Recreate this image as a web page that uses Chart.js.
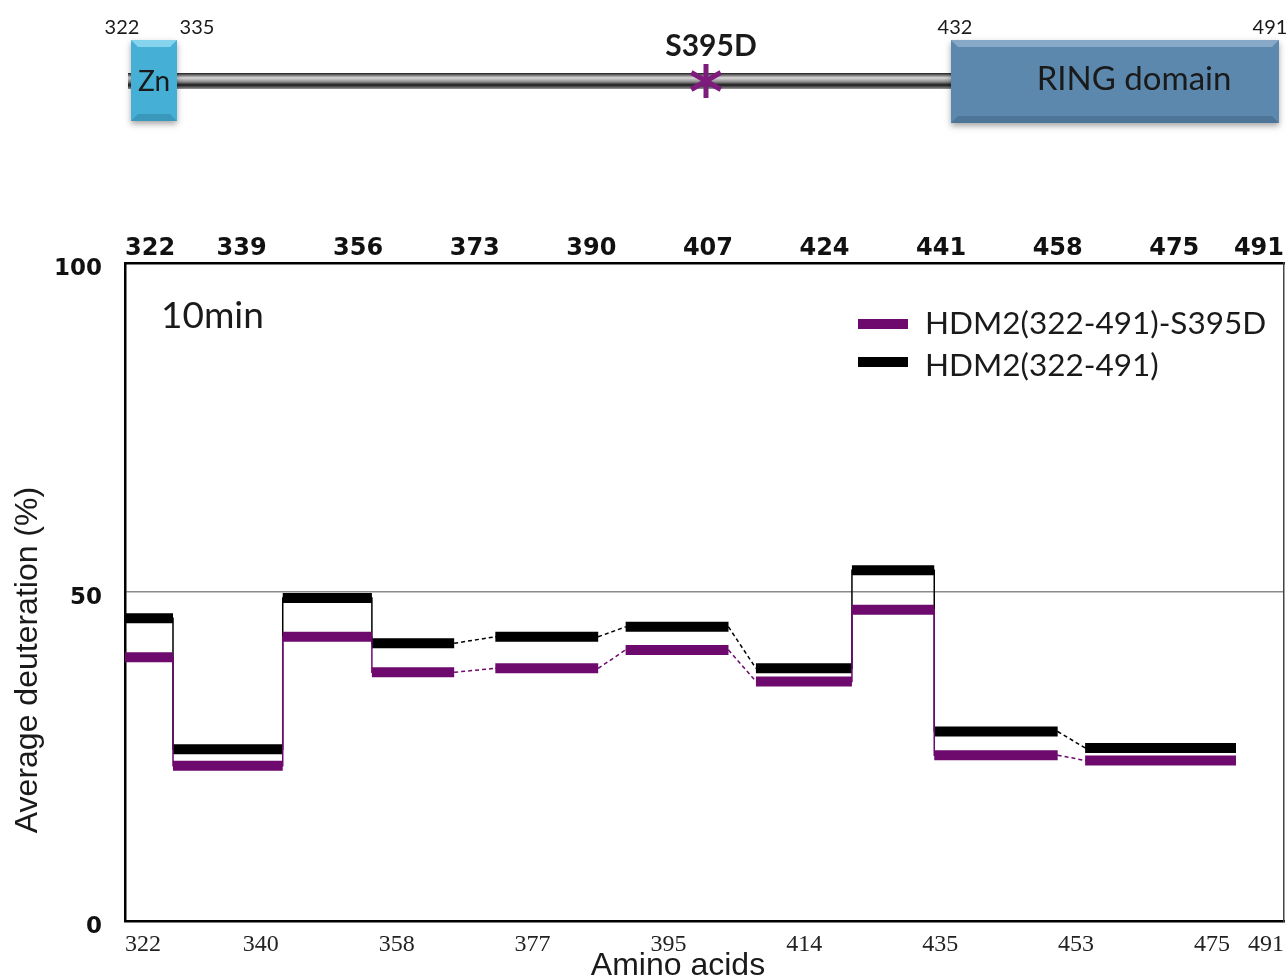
<!DOCTYPE html>
<html>
<head>
<meta charset="utf-8">
<script src="https://cdn.jsdelivr.net/npm/chart.js@4.4.1/dist/chart.umd.min.js"></script>
<style>
  html, body { margin: 0; padding: 0; background: #fff; }
  #wrap { width: 1287px; height: 980px; position: relative; }
</style>
</head>
<body>
<div id="wrap"><canvas id="hdxChart"></canvas></div>
<script>
// peptide segments (residue ranges) and average deuteration (%) after 10 min
const SEG_START = [322, 329, 345, 358, 376, 395, 414, 428, 440, 462];
const SEG_END = [329, 345, 358, 370, 391, 410, 428, 440, 458, 484];
const S395D_VALUES = [40.1, 23.6, 43.2, 37.8, 38.4, 41.2, 36.4, 47.3, 25.2, 24.4];
const WT_VALUES = [46.0, 26.1, 49.1, 42.2, 43.2, 44.7, 38.4, 53.3, 28.8, 26.3];

const SERIES_LABELS = ['HDM2(322-491)-S395D', 'HDM2(322-491)'];
const SERIES_COLORS = ['#6e0a6e', '#000000'];

// axis ticks
const TOP_TICKS = [322, 339, 356, 373, 390, 407, 424, 441, 458, 475, 491];
const BOTTOM_TICK_POS = [0, 1, 2, 3, 4, 5, 6, 7, 8, 8.53];
const BOTTOM_TICK_LABELS = ['322', '340', '358', '377', '395', '414', '435', '453', '475', '491'];
const Y_TICKS = [0, 50, 100];

// thick horizontal bar per peptide, broken by a null point
function barPoints(values) {
    const pts = [];
    values.forEach((v, i) => {
        pts.push({x: SEG_START[i], y: v}, {x: SEG_END[i], y: v}, {x: SEG_END[i], y: null});
    });
    return pts;
}

// thin line joining the peptides
function linkPoints(values) {
    const pts = [];
    values.forEach((v, i) => {
        pts.push({x: SEG_START[i], y: v}, {x: SEG_END[i], y: v});
    });
    return pts;
}

function bevelBox(ctx, x, y, w, h, fill, light, dark) {
    ctx.save();
    ctx.shadowColor = 'rgba(0,0,0,0.35)';
    ctx.shadowBlur = 6;
    ctx.shadowOffsetY = 3;
    ctx.fillStyle = fill;
    ctx.fillRect(x, y, w, h);
    ctx.restore();
    const b = 7;
    ctx.fillStyle = light;
    ctx.beginPath();
    ctx.moveTo(x, y); ctx.lineTo(x + w, y); ctx.lineTo(x + w - b, y + b); ctx.lineTo(x + b, y + b);
    ctx.closePath(); ctx.fill();
    ctx.fillStyle = dark;
    ctx.beginPath();
    ctx.moveTo(x, y + h); ctx.lineTo(x + w, y + h); ctx.lineTo(x + w - b, y + h - b); ctx.lineTo(x + b, y + h - b);
    ctx.closePath(); ctx.fill();
}

function drawDomainMap(ctx) {
    // backbone
    const g = ctx.createLinearGradient(0, 73, 0, 89);
    g.addColorStop(0, '#1e1e1e');
    g.addColorStop(0.3, '#d9d9d9');
    g.addColorStop(0.55, '#8c8c8c');
    g.addColorStop(0.75, '#1a1a1a');
    g.addColorStop(1, '#9a9a9a');
    ctx.fillStyle = g;
    ctx.fillRect(128, 73, 826, 16);

    bevelBox(ctx, 131, 40, 46, 81, '#45afd5', '#86d3ee', '#3a98bb');
    bevelBox(ctx, 951, 40, 328, 83, '#5c88ad', '#87a9c7', '#4d7597');

    ctx.fillStyle = '#1a1a1a';
    ctx.textAlign = 'center';
    ctx.textBaseline = 'middle';
    ctx.font = '28px Lato, sans-serif';
    ctx.fillText('Zn', 154, 82);
    ctx.font = '33px Lato, sans-serif';
    ctx.fillText('RING domain', 1134, 79);

    ctx.font = '20px Lato, sans-serif';
    ctx.fillText('322', 122, 28);
    ctx.fillText('335', 197, 28);
    ctx.fillText('432', 955, 28);
    ctx.fillText('491', 1270, 28);

    ctx.font = 'bold 30px Lato, sans-serif';
    ctx.fillText('S395D', 711, 46);

    // mutation star
    ctx.strokeStyle = '#7d1c7d';
    ctx.lineWidth = 5;
    const cx = 706, cy = 81, r = 17;
    [90, 30, 150].forEach(a => {
        const t = a * Math.PI / 180;
        ctx.beginPath();
        ctx.moveTo(cx - r * Math.cos(t), cy - r * Math.sin(t));
        ctx.lineTo(cx + r * Math.cos(t), cy + r * Math.sin(t));
        ctx.stroke();
    });
}

const decorPlugin = {
    id: 'decor',
    afterDraw(chart) {
        const ctx = chart.ctx;
        ctx.save();
        ctx.fillStyle = '#1a1a1a';
        ctx.textAlign = 'center';
        ctx.textBaseline = 'middle';
        ctx.font = '32px "Liberation Sans", Arial, sans-serif';
        ctx.fillText('Amino acids', 678, 966);
        ctx.save();
        ctx.translate(28, 660);
        ctx.rotate(-Math.PI / 2);
        ctx.fillText('Average deuteration (%)', 0, 0);
        ctx.restore();

        ctx.textAlign = 'left';
        ctx.font = '37px Lato, sans-serif';
        ctx.fillText('10min', 161, 316);

        // legend
        const rows = [324, 362];
        SERIES_LABELS.forEach((label, i) => {
            ctx.fillStyle = SERIES_COLORS[i];
            ctx.fillRect(858, rows[i] - 5, 50, 10);
            ctx.fillStyle = '#1a1a1a';
            ctx.font = '31.5px Lato, sans-serif';
            ctx.fillText(label, 925, rows[i] + (i ? 4 : 0));
        });

        drawDomainMap(ctx);
        ctx.restore();
    }
};

const datasets = [];
[S395D_VALUES, WT_VALUES].forEach((vals, k) => {
    datasets.push({
        label: SERIES_LABELS[k],
        data: barPoints(vals),
        borderColor: SERIES_COLORS[k],
        borderWidth: 10,
        borderCapStyle: 'butt',
        pointRadius: 0,
        spanGaps: false,
        xAxisID: 'x',
        yAxisID: 'y'
    });
    datasets.push({
        label: SERIES_LABELS[k] + ' link',
        data: linkPoints(vals),
        borderColor: SERIES_COLORS[k],
        borderWidth: 1.5,
        pointRadius: 0,
        xAxisID: 'x',
        yAxisID: 'y',
        segment: {
            borderDash: c => (c.p0.parsed.x !== c.p1.parsed.x && c.p0.parsed.y !== c.p1.parsed.y) ? [4, 3] : undefined
        }
    });
});

// keep the plot box fixed regardless of label widths
function fixHorizontal(height) {
    return s => {
        s.height = height;
        s.paddingLeft = 0;
        s.paddingRight = 0;
    };
}

new Chart(document.getElementById('hdxChart'), {
    type: 'line',
    data: {datasets: datasets},
    options: {
        responsive: true,
        maintainAspectRatio: false,
        animation: false,
        layout: {padding: {left: 0, right: 3, top: 0, bottom: 0}},
        plugins: {legend: {display: false}, tooltip: {enabled: false}},
        scales: {
            x: {
                type: 'linear',
                position: 'top',
                min: 322,
                max: 491,
                afterBuildTicks: s => { s.ticks = TOP_TICKS.map(v => ({value: v})); },
                afterFit: fixHorizontal(263),
                ticks: {
                    align: 'inner',
                    maxRotation: 0,
                    autoSkip: false,
                    padding: 0,
                    color: '#111',
                    font: {family: 'DejaVu Sans', weight: 'bold', size: 24}
                },
                grid: {drawOnChartArea: false, drawTicks: false},
                border: {color: '#000', width: 2.5}
            },
            xb: {
                type: 'linear',
                position: 'bottom',
                min: 0,
                max: 8.53,
                afterBuildTicks: s => { s.ticks = BOTTOM_TICK_POS.map(v => ({value: v})); },
                afterFit: fixHorizontal(59),
                ticks: {
                    align: 'inner',
                    maxRotation: 0,
                    autoSkip: false,
                    padding: 9,
                    color: '#222',
                    font: {family: 'Liberation Serif', size: 24},
                    callback: (v, i) => BOTTOM_TICK_LABELS[i]
                },
                grid: {drawOnChartArea: false, drawTicks: false},
                border: {color: '#000', width: 2.5}
            },
            y: {
                position: 'left',
                min: 0,
                max: 100,
                afterBuildTicks: s => { s.ticks = Y_TICKS.map(v => ({value: v})); },
                afterFit: s => { s.width = 125; },
                ticks: {
                    padding: 23,
                    labelOffset: 6,
                    color: '#111',
                    font: {family: 'DejaVu Sans', weight: 'bold', size: 23}
                },
                grid: {
                    drawTicks: false,
                    lineWidth: 1.5,
                    color: c => (c.tick && c.tick.value === 50) ? '#8a8a8a' : 'rgba(0,0,0,0)'
                },
                border: {color: '#000', width: 2.5}
            },
            yr: {
                position: 'right',
                min: 0,
                max: 100,
                afterFit: s => { s.width = 0; },
                ticks: {display: false},
                grid: {drawOnChartArea: false, drawTicks: false},
                border: {color: '#444', width: 1.5}
            }
        }
    },
    plugins: [decorPlugin]
});
</script>
</body>
</html>
